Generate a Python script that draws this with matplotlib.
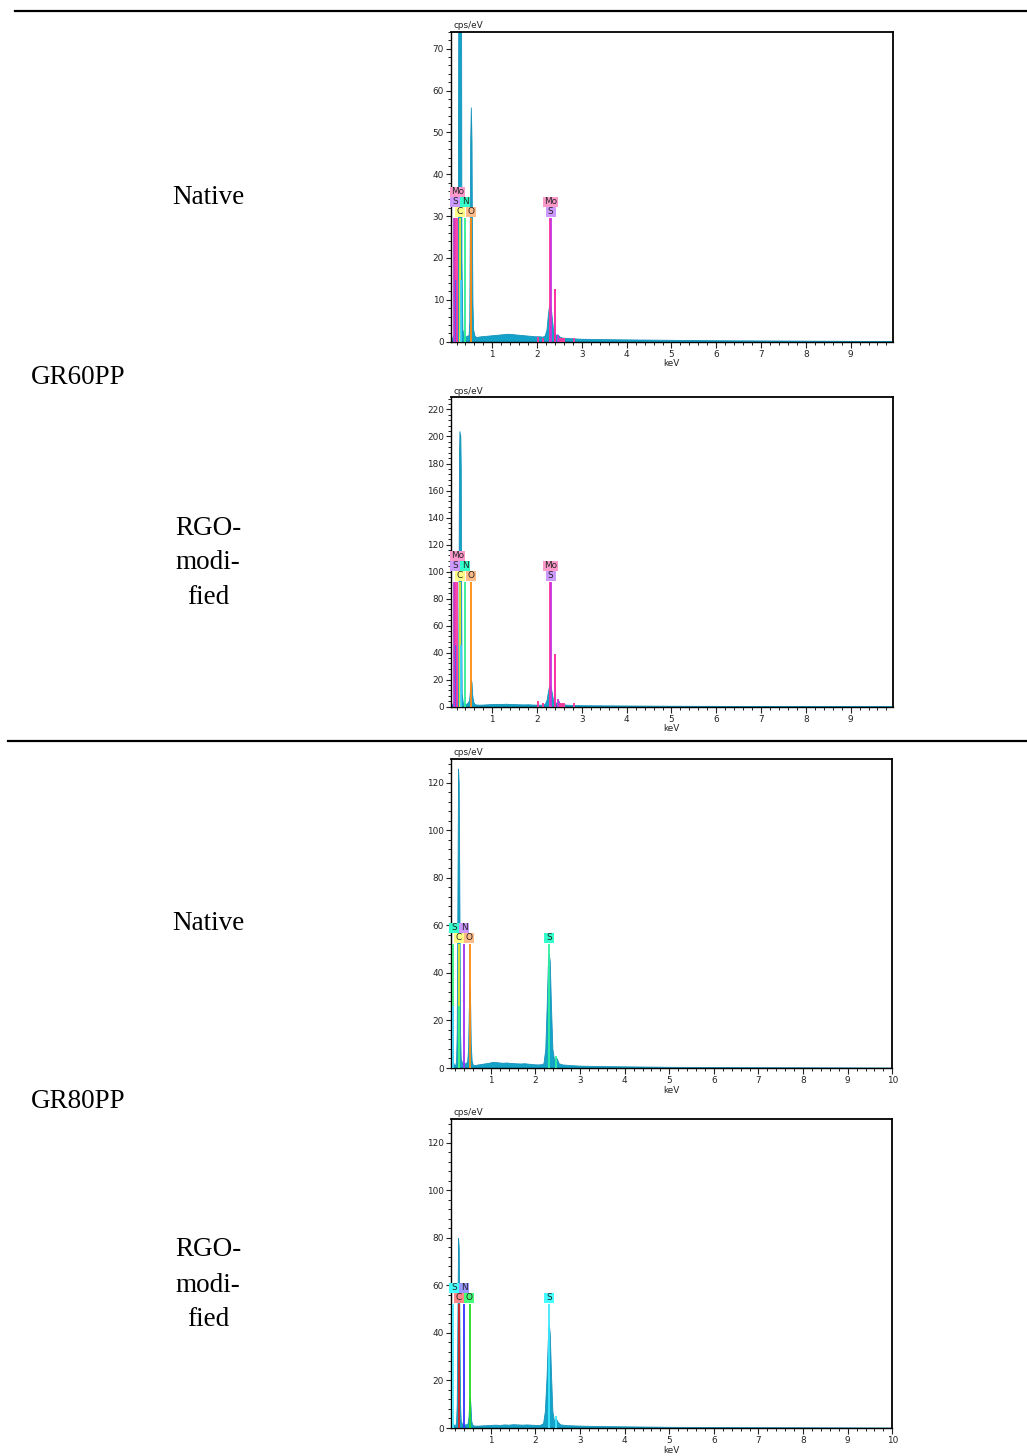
import matplotlib
matplotlib.use("Agg")
import matplotlib.pyplot as plt
import matplotlib.transforms as mtransforms
from matplotlib.patches import Rectangle
from matplotlib.lines import Line2D
from matplotlib.ticker import MultipleLocator

# ---------------- data ----------------
row_titles = ["GR60PP", "GR80PP"]
sample_titles = ["Native", "RGO-\nmodi-\nfied", "Native", "RGO-\nmodi-\nfied"]

# Panel 1 : GR60PP native
p1_energy = [0.07, 0.10, 0.12, 0.14, 0.16, 0.18, 0.20, 0.22, 0.23, 0.24, 0.25, 0.265, 0.28, 0.29, 0.30,
             0.31, 0.33, 0.36, 0.40, 0.44, 0.47, 0.485, 0.495, 0.505, 0.52, 0.535, 0.545, 0.555, 0.57, 0.60,
             0.64, 0.68, 0.75, 0.85, 0.95, 1.05, 1.15, 1.25, 1.35, 1.45, 1.55, 1.65, 1.75, 1.85, 1.95,
             2.05, 2.12, 2.17, 2.21, 2.24, 2.27, 2.30, 2.33, 2.36, 2.40, 2.44, 2.47, 2.50, 2.55, 2.65,
             2.8, 3.0, 3.3, 3.6, 4.0, 4.5, 5.0, 5.5, 6.0, 6.5, 7.0, 7.5, 8.0, 8.5, 9.0, 9.5, 9.94]
p1_counts = [0.3, 0.8, 1.5, 1.2, 2.0, 1.5, 1.0, 3.0, 20, 90, 150, 170, 170, 150, 90,
             20, 3.0, 1.5, 1.2, 1.5, 1.5, 5.0, 25, 48, 56, 48, 25, 10, 3.0, 1.5,
             1.1, 1.2, 1.3, 1.4, 1.5, 1.6, 1.7, 1.8, 1.9, 1.8, 1.7, 1.6, 1.5, 1.4, 1.3,
             1.3, 1.2, 1.5, 3.0, 6.5, 9.0, 8.5, 5.5, 2.5, 1.5, 1.8, 1.6, 1.2, 1.0, 0.9,
             0.8, 0.7, 0.65, 0.6, 0.55, 0.5, 0.45, 0.4, 0.35, 0.32, 0.3, 0.28, 0.25, 0.23, 0.2, 0.18, 0.15]
p1_line_energy = [0.149, 0.175, 0.19, 0.215, 0.277, 0.300, 0.392, 0.525, 2.016, 2.12, 2.293, 2.307,
                  2.395, 2.46, 2.52, 2.56, 2.60, 2.83]
p1_line_height = [29.5, 29.5, 14.8, 29.5, 29.5, 14.8, 29.5, 29.5, 1.2, 1.0, 29.5, 29.5,
                  12.5, 1.5, 1.0, 1.0, 1.0, 1.0]
p1_line_color = ["#b040e0", "#e030b0", "#4060ff", "#ff3399", "#e8e820", "#40d0ff", "#30f090", "#ff8a10",
                 "#ff3399", "#ff3399", "#ff3399", "#cc33dd", "#ff2299", "#cc33dd", "#ff3399", "#ff3399",
                 "#ff3399", "#ff3399"]
p1_label_text = ["Mo", "S", "N", "C", "O", "Mo", "S"]
p1_label_energy = [0.23, 0.17, 0.39, 0.28, 0.52, 2.30, 2.30]
p1_label_row = [2, 1, 1, 0, 0, 1, 0]
p1_label_color = ["#ff99cc", "#cc99ff", "#33ffcc", "#ffff88", "#ffbb88", "#ff99cc", "#cc99ff"]

# Panel 2 : GR60PP RGO-modified
p2_energy = [0.07, 0.10, 0.13, 0.16, 0.19, 0.22, 0.235, 0.245, 0.255, 0.265, 0.285, 0.295, 0.305,
             0.315, 0.34, 0.41, 0.45, 0.48, 0.50, 0.51, 0.52, 0.535, 0.55, 0.57, 0.60, 0.64, 0.70,
             0.80, 0.90, 1.00, 1.10, 1.20, 1.30, 1.40, 1.50, 1.60, 1.70, 1.80, 1.90, 2.00, 2.10,
             2.17, 2.21, 2.24, 2.27, 2.30, 2.33, 2.36, 2.40, 2.44, 2.47, 2.50, 2.55, 2.65, 2.8,
             3.0, 3.5, 4.0, 4.5, 5.0, 6.0, 7.0, 8.0, 9.0, 9.94]
p2_counts = [1.0, 2.0, 3.0, 5.0, 3.0, 4.0, 10, 80, 185, 204, 200, 175, 70,
             10, 3.0, 2.0, 3.0, 5.0, 12, 18, 20, 18, 9.0, 4.0, 2.0, 1.6, 1.5,
             1.6, 1.8, 2.0, 2.1, 2.0, 2.2, 2.0, 1.9, 1.8, 1.7, 1.8, 1.6, 1.5, 1.5,
             2.0, 5.0, 11, 16, 15, 10, 4.0, 2.0, 3.5, 5.0, 2.5, 2.0, 1.5, 1.3,
             1.1, 1.0, 0.9, 0.8, 0.7, 0.6, 0.5, 0.45, 0.4, 0.35]
p2_line_energy = [0.149, 0.175, 0.19, 0.215, 0.277, 0.300, 0.392, 0.525, 2.016, 2.12, 2.293, 2.307,
                  2.395, 2.46, 2.52, 2.56, 2.60, 2.83]
p2_line_height = [92, 92, 46, 92, 92, 46, 92, 92, 4.0, 3.0, 92, 92,
                  39, 6.0, 3.0, 3.0, 3.0, 3.0]
p2_line_color = p1_line_color
p2_label_text = ["Mo", "S", "N", "C", "O", "Mo", "S"]
p2_label_energy = [0.23, 0.17, 0.39, 0.28, 0.52, 2.30, 2.30]
p2_label_row = [2, 1, 1, 0, 0, 1, 0]
p2_label_color = ["#ff99cc", "#cc99ff", "#33ffcc", "#ffff88", "#ffbb88", "#ff99cc", "#cc99ff"]

# Panel 3 : GR80PP native
p3_energy = [0.10, 0.13, 0.15, 0.17, 0.20, 0.22, 0.235, 0.25, 0.265, 0.28, 0.295, 0.31, 0.325, 0.36,
             0.40, 0.44, 0.47, 0.49, 0.505, 0.52, 0.535, 0.55, 0.57, 0.60, 0.65, 0.75, 0.85, 0.95,
             1.05, 1.15, 1.25, 1.35, 1.45, 1.55, 1.65, 1.75, 1.85, 1.95, 2.05, 2.13, 2.18, 2.22,
             2.25, 2.28, 2.30, 2.32, 2.35, 2.38, 2.42, 2.45, 2.48, 2.52, 2.6, 2.8, 3.0, 3.5, 4.0,
             4.5, 5.0, 6.0, 7.0, 8.0, 9.0, 10.0]
p3_counts = [0.5, 1.0, 2.5, 1.5, 1.0, 3.0, 15, 70, 126, 120, 70, 15, 4.0, 2.0,
             2.0, 2.0, 3.0, 8.0, 24, 35, 28, 10, 3.0, 1.2, 1.3, 1.6, 1.9, 2.2,
             2.6, 2.4, 2.2, 2.3, 2.1, 2.0, 1.9, 2.0, 1.8, 1.6, 1.5, 1.6, 2.0, 8.0,
             25, 45, 48, 45, 25, 8.0, 3.0, 4.5, 4.0, 2.0, 1.5, 1.2, 1.0, 0.8, 0.7,
             0.6, 0.5, 0.4, 0.35, 0.3, 0.25, 0.2]
p3_line_energy = [0.149, 0.16, 0.277, 0.29, 0.392, 0.525, 2.307, 2.464]
p3_line_height = [52, 26, 52, 26, 52, 52, 52, 5.0]
p3_line_color = ["#30f080", "#40d0ff", "#e8e820", "#30f080", "#a030f0", "#ff8a10", "#30f0a0", "#30f0a0"]
p3_label_text = ["S", "N", "C", "O", "S"]
p3_label_energy = [0.17, 0.40, 0.28, 0.52, 2.31]
p3_label_row = [1, 1, 0, 0, 0]
p3_label_color = ["#33ffcc", "#cc99ff", "#ffff88", "#ffbb88", "#33ffcc"]

# Panel 4 : GR80PP RGO-modified
p4_energy = [0.10, 0.13, 0.15, 0.17, 0.20, 0.22, 0.235, 0.25, 0.265, 0.28, 0.295, 0.31, 0.325, 0.36,
             0.40, 0.44, 0.48, 0.50, 0.515, 0.53, 0.545, 0.56, 0.58, 0.62, 0.70, 0.80, 0.90, 1.00,
             1.10, 1.20, 1.30, 1.40, 1.50, 1.60, 1.70, 1.80, 1.90, 2.00, 2.10, 2.17, 2.21, 2.25,
             2.28, 2.30, 2.32, 2.35, 2.38, 2.42, 2.46, 2.50, 2.56, 2.7, 3.0, 3.5, 4.0, 4.5, 5.0,
             6.0, 7.0, 8.0, 9.0, 10.0]
p4_counts = [0.5, 0.8, 2.0, 1.2, 1.0, 2.5, 10, 45, 80, 76, 45, 10, 3.0, 1.5,
             1.5, 1.5, 2.0, 5.0, 11, 13, 9.0, 3.0, 1.5, 1.0, 1.0, 1.1, 1.2, 1.3,
             1.4, 1.3, 1.5, 1.4, 1.6, 1.5, 1.4, 1.5, 1.4, 1.3, 1.3, 2.0, 7.0, 22,
             39, 43.5, 40, 22, 7.0, 2.5, 4.0, 2.5, 1.5, 1.2, 1.0, 0.8, 0.7, 0.6, 0.5,
             0.4, 0.35, 0.3, 0.25, 0.2]
p4_line_energy = [0.149, 0.277, 0.392, 0.525, 2.307, 2.464]
p4_line_height = [52, 52, 52, 52, 52, 5.0]
p4_line_color = ["#40e8ff", "#dd2222", "#3333ff", "#22dd22", "#40e8ff", "#40e8ff"]
p4_label_text = ["S", "N", "C", "O", "S"]
p4_label_energy = [0.17, 0.40, 0.28, 0.52, 2.31]
p4_label_row = [1, 1, 0, 0, 0]
p4_label_color = ["#44ffff", "#9999ff", "#ff8888", "#44ff77", "#44ffff"]

y_limits = [74, 229, 130, 130]
y_major = [10, 20, 20, 20]
y_minor = [2, 4, 4, 4]
x_limits = [(0.07, 9.94), (0.07, 9.94), (0.10, 10.0), (0.10, 10.0)]
x_ticks_a = [1, 2, 3, 4, 5, 6, 7, 8, 9]
x_ticks_b = [1, 2, 3, 4, 5, 6, 7, 8, 9, 10]

# ---------------- layout ----------------
W, H = 1027, 1456
fig = plt.figure(figsize=(W / 100, H / 100), dpi=100)

# axes boxes in pixels (left, top, right, bottom)
boxes = [(450.7, 32, 892.7, 341.7), (450.7, 397.3, 892.7, 706.7),
         (450.7, 759, 892.3, 1068), (450.7, 1119, 892.3, 1428)]

panels = [
    (p1_energy, p1_counts, p1_line_energy, p1_line_height, p1_line_color,
     p1_label_text, p1_label_energy, p1_label_row, p1_label_color),
    (p2_energy, p2_counts, p2_line_energy, p2_line_height, p2_line_color,
     p2_label_text, p2_label_energy, p2_label_row, p2_label_color),
    (p3_energy, p3_counts, p3_line_energy, p3_line_height, p3_line_color,
     p3_label_text, p3_label_energy, p3_label_row, p3_label_color),
    (p4_energy, p4_counts, p4_line_energy, p4_line_height, p4_line_color,
     p4_label_text, p4_label_energy, p4_label_row, p4_label_color),
]

spec_color = "#15a2c9"
lab_size = 6.4

for i, (box, pdata) in enumerate(zip(boxes, panels)):
    l, t, r, b = box
    ax = fig.add_axes([l / W, 1 - b / H, (r - l) / W, (b - t) / H])
    en, ct, le, lh, lc, lt, lx, lr, lcol = pdata
    ax.fill_between(en, 0, ct, color=spec_color, lw=0.6, edgecolor="#1592ba", zorder=2)
    ax.vlines(le, 0, lh, colors=lc, lw=1.3, zorder=3)
    ax.set_xlim(*x_limits[i])
    ax.set_ylim(0, y_limits[i])
    ax.yaxis.set_major_locator(MultipleLocator(y_major[i]))
    ax.yaxis.set_minor_locator(MultipleLocator(y_minor[i]))
    ax.set_xticks(x_ticks_a if i < 2 else x_ticks_b)
    ax.xaxis.set_minor_locator(MultipleLocator(0.2))
    ax.tick_params(which="major", length=3.4, width=0.8, direction="out", pad=1.5,
                   labelsize=lab_size, colors="#222222")
    ax.tick_params(which="minor", length=2.0, width=0.7, direction="out", colors="#222222")
    ax.tick_params(axis="x", which="major", length=4.0, pad=2.0)
    for s in ax.spines.values():
        s.set_linewidth(1.0)
        s.set_color("black")
    ax.spines["top"].set_linewidth(1.3)
    ax.spines["right"].set_linewidth(1.3)
    ax.set_xlabel("keV", fontsize=lab_size, labelpad=0.3, color="#222222")
    ax.annotate("cps/eV", xy=(0, 1), xycoords="axes fraction", xytext=(2, 1.2),
                textcoords="offset points", ha="left", va="bottom", fontsize=lab_size, color="#222222")

    # element labels: rows of 10 px boxes stacked above the marker-line top
    top = max(lh)
    for txt, ex, row, col in zip(lt, lx, lr, lcol):
        trans = fig.dpi_scale_trans + mtransforms.ScaledTranslation(ex, top, ax.transData)
        w = (5 + 5 * len(txt)) / 100.0
        hgt = 0.10
        y0 = 0.015 + row * hgt
        ax.add_patch(Rectangle((-w / 2, y0), w, hgt, transform=trans, facecolor=col,
                               edgecolor="none", zorder=5, clip_on=False))
        ax.text(0, y0 + hgt / 2, txt, transform=trans, ha="center", va="center",
                fontsize=6.4, color="#222222", zorder=6, family="DejaVu Sans")

# horizontal rules
fig.add_artist(Line2D([15 / W, 1.0], [1 - 10.7 / H, 1 - 10.7 / H], color="black", lw=1.6))
fig.add_artist(Line2D([8 / W, 1.0], [1 - 741 / H, 1 - 741 / H], color="black", lw=1.6))

# left side text
serif = "Liberation Serif"
fs = 19.5
fig.text(78 / W, 1 - 377 / H, row_titles[0], ha="center", va="center", fontsize=fs, family=serif)
fig.text(78 / W, 1 - 1102 / H, row_titles[1], ha="center", va="center", fontsize=fs, family=serif)
centers = [197, 563, 924, 1285]
for txt, yc in zip(sample_titles, centers):
    lines = txt.split("\n")
    n = len(lines)
    for k, ln in enumerate(lines):
        yy = yc + (k - (n - 1) / 2) * 35
        fig.text(208 / W, 1 - yy / H, ln, ha="center", va="center", fontsize=fs, family=serif)

fig.savefig("out.png", dpi=100)
